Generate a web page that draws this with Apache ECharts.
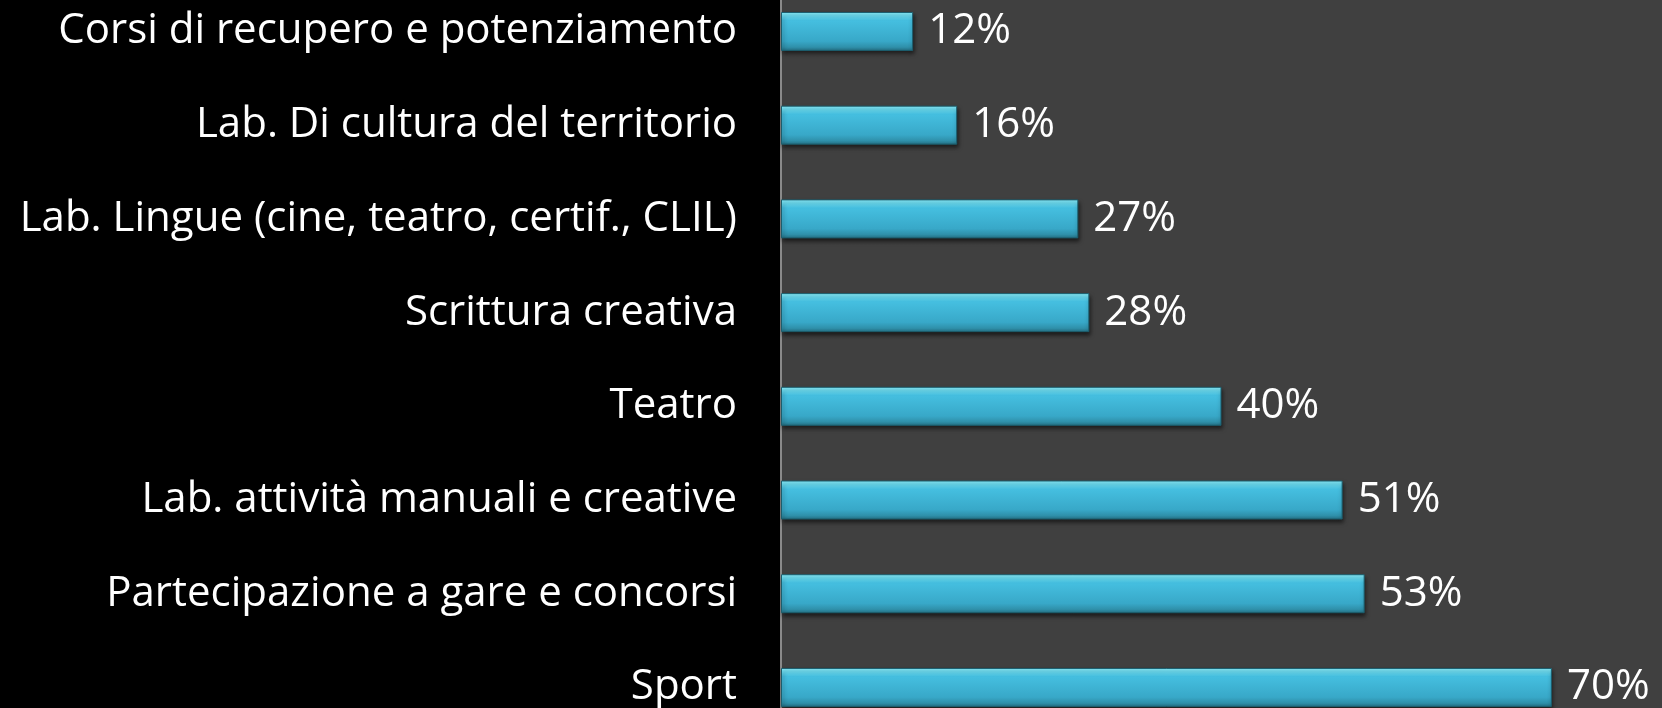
<!DOCTYPE html>
<html>
<head>
<meta charset="utf-8">
<script src="https://cdn.jsdelivr.net/npm/echarts@6/dist/echarts.min.js"></script>
<style>
html,body{margin:0;padding:0;background:#000;}
#chart{width:1662px;height:708px;}
</style>
</head>
<body>
<div id="chart"></div>
<script>
const categories = [
  "Corsi di recupero e potenziamento",
  "Lab. Di cultura del territorio",
  "Lab. Lingue (cine, teatro, certif., CLIL)",
  "Scrittura creativa",
  "Teatro",
  "Lab. attività manuali e creative",
  "Partecipazione a gare e concorsi",
  "Sport"
];
const values = [12, 16, 27, 28, 40, 51, 53, 70];

const chart = echarts.init(document.getElementById('chart'));
chart.setOption({
  backgroundColor: '#000000',
  animation: false,
  grid: {
    left: 781, right: 0, top: -15.4, height: 749.7,
    outerBoundsMode: 'none', containLabel: false,
    show: true, backgroundColor: '#404040', borderWidth: 0
  },
  xAxis: {
    type: 'value', min: 0, max: 80, show: false
  },
  yAxis: {
    type: 'category', data: categories, inverse: true,
    axisLine: { show: true, lineStyle: { color: '#8a8a8a', width: 2 } },
    axisTick: { show: false },
    axisLabel: {
      color: '#ffffff', fontFamily: 'Open Sans', fontSize: 42, margin: 44
    }
  },
  series: [{
    type: 'bar',
    data: values,
    barWidth: 39,
    itemStyle: {
      color: new echarts.graphic.LinearGradient(0, 0, 0, 1, [
        { offset: 0, color: '#8ef2ff' },
        { offset: 0.12, color: '#66dcf4' },
        { offset: 0.22, color: '#45bfe0' },
        { offset: 0.75, color: '#38a8c8' },
        { offset: 0.9, color: '#2f90aa' },
        { offset: 1, color: '#246f82' }
      ]),
      borderColor: '#1c5e6e',
      borderWidth: 1,
      shadowColor: 'rgba(0,0,0,0.55)',
      shadowBlur: 4,
      shadowOffsetY: 3,
      shadowOffsetX: 1
    },
    label: {
      show: true, position: 'right', distance: 15,
      color: '#ffffff', fontFamily: 'Open Sans', fontSize: 42,
      formatter: p => p.value + '%'
    }
  }]
});
</script>
</body>
</html>
